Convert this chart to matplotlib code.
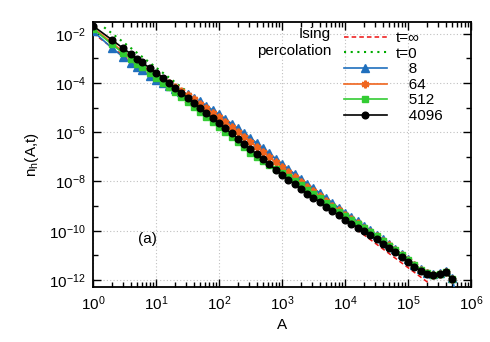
import numpy as np
import matplotlib
matplotlib.use("Agg")
import matplotlib.pyplot as plt
from matplotlib.ticker import LogLocator, FixedLocator, NullFormatter

plt.rcParams['font.family'] = ['Liberation Sans', 'DejaVu Sans']
plt.rcParams['mathtext.fontset'] = 'custom'
plt.rcParams['mathtext.rm'] = 'Liberation Sans'
plt.rcParams['mathtext.it'] = 'Liberation Sans:italic'
plt.rcParams['font.size'] = 11

# ---- data ----
A_bins = [1, 2, 3, 4, 5, 6, 8,
          10, 13, 16, 20, 25, 32, 40, 50, 63, 79,
          100, 126, 158, 200, 251, 316, 398, 501, 631, 794,
          1000, 1259, 1585, 1995, 2512, 3162, 3981, 5012, 6310, 7943,
          10000, 12589, 15849, 19953, 25119, 31623, 39811, 50119, 63096, 79433,
          100000, 125893, 158489, 199526, 251189, 316228, 398107, 501187]
A_bins_8 = A_bins + [630957]

# log10 n_h values
log_n_8 = [-1.90, -2.58, -2.94, -3.17, -3.36, -3.49, -3.70,
           -3.86, -4.01, -4.14, -4.25, -4.35, -4.46, -4.59, -4.75, -4.92, -5.10,
           -5.27, -5.46, -5.65, -5.84, -6.04, -6.24, -6.44, -6.65, -6.86, -7.07,
           -7.29, -7.49, -7.69, -7.89, -8.09, -8.27, -8.47, -8.67, -8.87, -9.07,
           -9.26, -9.44, -9.62, -9.80, -9.98, -10.16, -10.35, -10.55, -10.75, -10.96,
           -11.16, -11.38, -11.57, -11.72, -11.77, -11.73, -11.65, -11.93, -13.0]
log_n_64 = [-1.76, -2.37, -2.73, -2.97, -3.16, -3.30, -3.52,
            -3.68, -3.86, -4.02, -4.18, -4.33, -4.50, -4.66, -4.84, -5.02, -5.21,
            -5.39, -5.58, -5.78, -5.98, -6.18, -6.38, -6.59, -6.80, -7.01, -7.22,
            -7.43, -7.63, -7.83, -8.03, -8.22, -8.40, -8.60, -8.79, -8.98, -9.17,
            -9.35, -9.53, -9.70, -9.87, -10.04, -10.21, -10.40, -10.59, -10.78, -10.99,
            -11.19, -11.40, -11.59, -11.73, -11.78, -11.74, -11.67, -11.95]
log_n_512 = [-1.80, -2.43, -2.79, -3.02, -3.21, -3.36, -3.60,
             -3.78, -3.99, -4.18, -4.38, -4.57, -4.77, -4.96, -5.17, -5.37, -5.58,
             -5.78, -5.99, -6.20, -6.41, -6.62, -6.83, -7.01, -7.18, -7.34, -7.50,
             -7.67, -7.82, -7.98, -8.15, -8.34, -8.51, -8.69, -8.87, -9.05, -9.23,
             -9.41, -9.57, -9.74, -9.90, -10.07, -10.23, -10.41, -10.60, -10.78, -10.98,
             -11.17, -11.39, -11.58, -11.73, -11.78, -11.74, -11.67, -11.95]
log_n_4096 = [-1.68, -2.25, -2.59, -2.82, -3.01, -3.16, -3.40,
              -3.58, -3.79, -3.99, -4.20, -4.40, -4.61, -4.81, -5.02, -5.22, -5.43,
              -5.63, -5.84, -6.05, -6.26, -6.47, -6.68, -6.89, -7.10, -7.31, -7.52,
              -7.73, -7.92, -8.11, -8.30, -8.49, -8.66, -8.84, -9.02, -9.20, -9.38,
              -9.55, -9.71, -9.87, -10.03, -10.19, -10.35, -10.52, -10.70, -10.88, -11.07,
              -11.26, -11.46, -11.63, -11.76, -11.80, -11.76, -11.68, -11.98]

ising_A = [1, 220000]
ising_n = [10 ** -1.98, 10 ** -12.15]
perc_A = [1.5, 250]
perc_n = [10 ** -1.74, 10 ** -6.14]

legend_labels = ['t=\u221e', 't=0', '   8', '   64', '   512', '   4096']
left_labels = ['Ising', 'percolation']

# ---- figure ----
fig = plt.figure(figsize=(4.9, 3.42), dpi=100)
ax = fig.add_axes([93 / 490, 1 - 287 / 342, (471 - 93) / 490, (287 - 22) / 342])

c_blue = '#1f6fbd'
c_orange = '#f0651e'
c_green = '#33cc33'
c_black = '#000000'

l_ising, = ax.plot(ising_A, ising_n, color='#ee1111', ls=(0, (3, 2)), lw=1.1, zorder=2)
l_perc, = ax.plot(perc_A, perc_n, color='#00aa00', ls=(0, (1, 2.2)), lw=1.5, zorder=2)
l8, = ax.plot(A_bins_8, 10 ** np.array(log_n_8), color=c_blue, lw=1.2, marker='^',
              ms=5.5, mec=c_blue, mfc=c_blue, zorder=3)
l64, = ax.plot(A_bins, 10 ** np.array(log_n_64), color=c_orange, lw=1.2,
               marker=(6, 2, 0), ms=5.5, mew=1.7, mec=c_orange, zorder=4)
l512, = ax.plot(A_bins, 10 ** np.array(log_n_512), color=c_green, lw=1.2, marker='s',
                ms=4.6, mec=c_green, mfc=c_green, zorder=5)
l4096, = ax.plot(A_bins, 10 ** np.array(log_n_4096), color=c_black, lw=1.2, marker='o',
                 ms=4.8, mec=c_black, mfc=c_black, zorder=6)

ax.set_xscale('log')
ax.set_yscale('log')
ax.set_xlim(1, 1e6)
ax.set_ylim(10 ** -12.285, 10 ** -1.524)

ax.xaxis.set_major_locator(LogLocator(base=10, numticks=10))
ax.xaxis.set_minor_locator(LogLocator(base=10, subs=np.arange(2, 10), numticks=100))
ax.xaxis.set_minor_formatter(NullFormatter())
ax.yaxis.set_major_locator(FixedLocator([1e-2, 1e-4, 1e-6, 1e-8, 1e-10, 1e-12]))
ax.yaxis.set_minor_locator(FixedLocator([1e-3, 1e-5, 1e-7, 1e-9, 1e-11]))
ax.yaxis.set_minor_formatter(NullFormatter())

ax.tick_params(which='both', direction='in', top=True, right=True, width=1)
ax.tick_params(which='major', length=6, labelsize=11, pad=5)
ax.tick_params(which='minor', length=3.5)
for s in ax.spines.values():
    s.set_linewidth(1.3)

ax.grid(True, which='major', ls=(0, (1, 2)), color='#c0c0c0', lw=0.8)

ax.set_xlabel('A', fontsize=11, labelpad=4)
ax.set_ylabel('n$_\\mathregular{h}$(A,t)', fontsize=11, labelpad=6)

ax.text(0.143, 0.18, '(a)', transform=ax.transAxes, fontsize=11, ha='center', va='center')

handles = [l_ising, l_perc, l8, l64, l512, l4096]
leg = ax.legend(handles, legend_labels, loc='upper left',
                bbox_to_anchor=((344 - 93) / 378, 0.965), frameon=False,
                borderaxespad=0, borderpad=0, handlelength=2.8, handletextpad=0.6,
                labelspacing=0.1, numpoints=1, fontsize=11)

for i, t in enumerate(left_labels):
    ax.text((331 - 93) / 378, 1 - ((34 + 17 * i) - 22.3) / 264.4, t,
            transform=ax.transAxes, ha='right', va='center', fontsize=11)

fig.savefig('out.png', dpi=100)
